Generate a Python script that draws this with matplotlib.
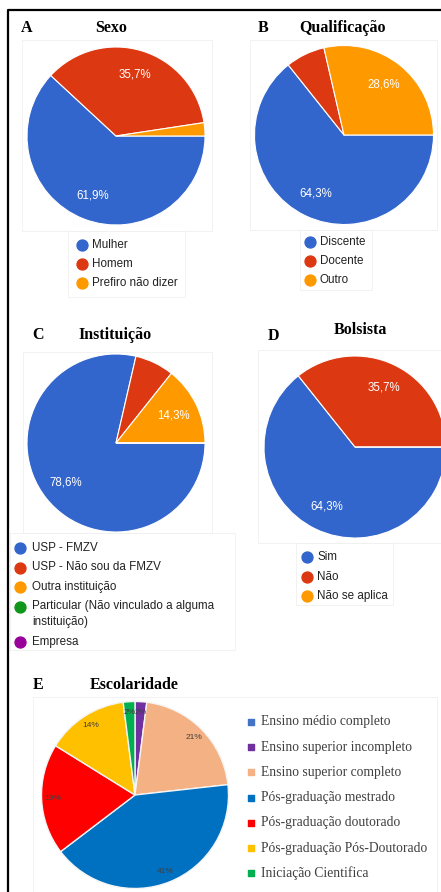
import matplotlib
matplotlib.use("Agg")
import matplotlib.pyplot as plt
from matplotlib.patches import Rectangle

# dados
sexo_labels = ["Mulher", "Homem", "Prefiro não dizer"]
sexo_vals = [61.9, 35.7, 2.4]

qual_labels = ["Discente", "Docente", "Outro"]
qual_vals = [64.3, 7.1, 28.6]

inst_labels = ["USP - FMZV", "USP - Não sou da FMZV", "Outra instituição",
               "Particular (Não vinculado a alguma\ninstituição)", "Empresa"]
inst_vals = [78.6, 7.1, 14.3, 0, 0]

bolsa_labels = ["Sim", "Não", "Não se aplica"]
bolsa_vals = [64.3, 35.7, 0]

esc_labels = ["Ensino médio completo", "Ensino superior incompleto", "Ensino superior completo",
              "Pós-graduação mestrado", "Pós-graduação doutorado",
              "Pós-graduação Pós-Doutorado", "Iniciação Cientifica"]
esc_vals = [0, 2, 21, 41, 19, 14, 2]

google_colors = ["#3366CC", "#DC3912", "#FF9900", "#109618", "#990099"]
excel_colors = ["#4472C4", "#7030A0", "#F4B183", "#0070C0", "#FF0000", "#FFC000", "#00B050"]

W, H = 441, 892
fig = plt.figure(figsize=(W / 100, H / 100), dpi=100)

# eixo de fundo em pixels (y para baixo)
bg = fig.add_axes([0, 0, 1, 1])
bg.set_xlim(0, W)
bg.set_ylim(H, 0)
bg.axis("off")

bg.plot([8, 8, W], [H, 10, 10], color="black", lw=1.6, solid_capstyle="butt")

# caixas claras das areas dos graficos
boxes = [(22, 40, 212, 231), (68, 231, 185, 297),
         (250, 40, 437, 230), (300, 230, 372, 290),
         (23, 352, 212, 533), (10, 533, 235, 650),
         (258, 350, 441, 543), (296, 543, 393, 605),
         (33, 697, 437, 892)]
for x0, y0, x1, y1 in boxes:
    bg.add_patch(Rectangle((x0, y0), x1 - x0, y1 - y0, fill=False, ec="#f0f0f0", lw=0.6))

serif = "Liberation Serif"
sans = "Liberation Sans"


def title(letter, lx, ly, text, tx, ty):
    bg.text(lx, ly, letter, fontfamily=serif, fontweight="bold", fontsize=11.5, ha="center", va="center")
    bg.text(tx, ty, text, fontfamily=serif, fontweight="bold", fontsize=11.5, ha="center", va="center")


def pie_axes(cx, cy, r):
    return fig.add_axes([(cx - r) / W, 1 - (cy + r) / H, 2 * r / W, 2 * r / H])


def google_pie(cx, cy, r, vals):
    ax = pie_axes(cx, cy, r)
    ax.pie(vals, colors=google_colors[:len(vals)], startangle=0, counterclock=False,
           autopct=lambda p: ("%.1f%%" % p).replace(".", ",") if p >= 10 else "",
           pctdistance=0.72, wedgeprops=dict(edgecolor="white", linewidth=0.8),
           textprops=dict(color="white", fontsize=8.3, fontfamily=sans))
    ax.set_xlim(-1, 1)
    ax.set_ylim(-1, 1)
    ax.axis("off")


def google_legend(xc, xt, y, labels, step=19.5, wrap=16):
    for lab, col in zip(labels, google_colors):
        bg.scatter([xc], [y], s=62, color=col, zorder=3)
        for j, line in enumerate(lab.split("\n")):
            bg.text(xt, y + j * wrap, line, fontfamily=sans, fontsize=8.4, color="#222222", va="center")
        y += step + (len(lab.split("\n")) - 1) * wrap


# A
title("A", 27, 28, "Sexo", 111, 28)
google_pie(116, 136, 89, sexo_vals)
google_legend(82, 92, 245, sexo_labels, step=19)

# B
title("B", 263, 28, "Qualificação", 343, 28)
google_pie(344, 135, 89.5, qual_vals)
google_legend(310, 320, 242, qual_labels, step=19)

# C
title("C", 38, 335, "Instituição", 115, 335)
google_pie(116, 443, 89, inst_vals)
google_legend(20, 32, 548, inst_labels, step=19.5)

# D
title("D", 273, 336, "Bolsista", 360, 330)
google_pie(355, 447, 91, bolsa_vals)
google_legend(307, 317, 557, bolsa_labels, step=19.5)

# E
title("E", 38, 685, "Escolaridade", 134, 685)
axe = pie_axes(135, 795, 93.5)
axe.pie(esc_vals, colors=excel_colors, startangle=90, counterclock=False,
        autopct=lambda p: "%d%%" % round(p * sum(esc_vals) / 100) if p > 0.5 else "",
        pctdistance=0.88, wedgeprops=dict(edgecolor="#f4f4f4", linewidth=1.0),
        textprops=dict(color="#404040", fontsize=6, fontfamily=sans))
axe.set_xlim(-1, 1)
axe.set_ylim(-1, 1)
axe.axis("off")

y = 722
for lab, col in zip(esc_labels, excel_colors):
    bg.scatter([251], [y], s=20, marker="s", color=col, zorder=3)
    bg.text(261, y, lab, fontfamily=serif, fontsize=9.8, color="#404040", va="center")
    y += 25.2

fig.savefig("out.png", dpi=100)
